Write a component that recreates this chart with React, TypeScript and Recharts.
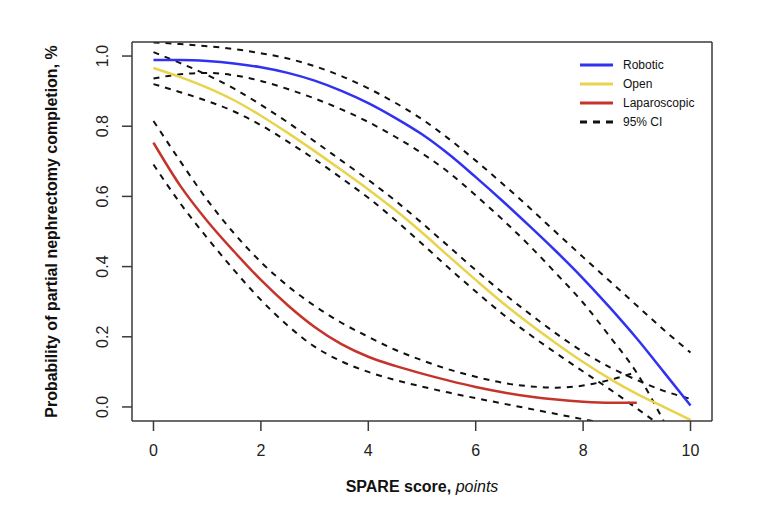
import React from "react"
import { LineChart, Line, XAxis, YAxis } from "recharts"

// SPARE score (points)
const scores = [0, 0.5, 1, 1.5, 2, 2.5, 3, 3.5, 4, 4.5, 5, 5.5, 6, 6.5, 7, 7.5, 8, 8.5, 9, 9.5, 10]

// Robotic
const roboticEst = [0.989, 0.989, 0.986, 0.979, 0.968, 0.952, 0.93, 0.901, 0.866, 0.824, 0.777, 0.72, 0.655, 0.587, 0.516, 0.443, 0.366, 0.283, 0.195, 0.1, 0.004]
const roboticUpper = [1.039, 1.034, 1.028, 1.02, 1.008, 0.993, 0.971, 0.943, 0.908, 0.867, 0.82, 0.764, 0.702, 0.636, 0.568, 0.497, 0.427, 0.358, 0.289, 0.22, 0.155]
const roboticLower = [0.936, 0.948, 0.952, 0.945, 0.929, 0.906, 0.879, 0.848, 0.812, 0.77, 0.723, 0.668, 0.603, 0.534, 0.46, 0.38, 0.297, 0.2, 0.097, -0.04, -0.19]

// Open
const openEst = [0.966, 0.94, 0.91, 0.874, 0.83, 0.781, 0.729, 0.675, 0.62, 0.561, 0.497, 0.429, 0.362, 0.297, 0.237, 0.181, 0.128, 0.08, 0.037, 0.0, -0.037]
const openUpper = [1.011, 0.98, 0.946, 0.907, 0.861, 0.811, 0.757, 0.702, 0.647, 0.588, 0.524, 0.457, 0.39, 0.326, 0.266, 0.209, 0.157, 0.113, 0.077, 0.046, 0.023]
const openLower = [0.92, 0.897, 0.872, 0.842, 0.803, 0.756, 0.706, 0.652, 0.596, 0.533, 0.465, 0.396, 0.329, 0.265, 0.207, 0.153, 0.101, 0.05, -0.004, -0.06, -0.12]

// Laparoscopic (0 to 9 points)
const lapEst = [0.753, 0.63, 0.53, 0.443, 0.362, 0.29, 0.228, 0.179, 0.143, 0.117, 0.095, 0.075, 0.057, 0.042, 0.03, 0.021, 0.015, 0.012, 0.012]
const lapUpper = [0.815, 0.7, 0.59, 0.495, 0.413, 0.345, 0.288, 0.24, 0.2, 0.163, 0.133, 0.107, 0.086, 0.069, 0.059, 0.055, 0.061, 0.077, 0.1]
const lapLower = [0.691, 0.58, 0.482, 0.39, 0.305, 0.232, 0.172, 0.13, 0.1, 0.077, 0.058, 0.041, 0.025, 0.01, -0.005, -0.02, -0.035, -0.05, -0.07]

const xTicks = [0, 2, 4, 6, 8, 10]
const yTicks = [0, 0.2, 0.4, 0.6, 0.8, 1.0]

const legendItems = [
  { label: "Robotic", color: "#3131F2", dashed: false },
  { label: "Open", color: "#E9D34C", dashed: false },
  { label: "Laparoscopic", color: "#C4342B", dashed: false },
  { label: "95% CI", color: "#111111", dashed: true },
]

const rows = scores.map((s, i) => ({
  score: s,
  rob: roboticEst[i],
  robHi: roboticUpper[i],
  robLo: roboticLower[i],
  open: openEst[i],
  openHi: openUpper[i],
  openLo: openLower[i],
  lap: lapEst[i],
  lapHi: lapUpper[i],
  lapLo: lapLower[i],
}))

const FONT = "'Liberation Sans', Arial, sans-serif"
const AXIS = "#3a3a3a"
const DASH = "6 6"

const YTick = (props: any) => {
  const { x, y, payload } = props
  return (
    <text x={x} y={y} transform={`rotate(-90 ${x} ${y})`} textAnchor="middle" dominantBaseline="central"
      fontSize={16} fill="#222" fontFamily={FONT}>
      {Number(payload.value).toFixed(1)}
    </text>
  )
}

const YTitle = (props: any) => {
  const { viewBox } = props
  const cx = viewBox.x + 19
  const cy = viewBox.y + viewBox.height / 2
  return (
    <text x={cx} y={cy} transform={`rotate(-90 ${cx} ${cy})`} textAnchor="middle" dominantBaseline="central"
      fontSize={16} fontWeight="bold" fill="#111" fontFamily={FONT}>
      Probability of partial nephrectomy completion, %
    </text>
  )
}

const XTitle = (props: any) => {
  const { viewBox } = props
  return (
    <text x={viewBox.x + viewBox.width / 2} y={viewBox.y + 71} textAnchor="middle" fontSize={16} fill="#111" fontFamily={FONT}>
      <tspan fontWeight="bold">SPARE score, </tspan>
      <tspan fontStyle="italic">points</tspan>
    </text>
  )
}

const LegendBox = () => (
  <div style={{ position: "absolute", left: 580, top: 55, fontFamily: FONT, fontSize: 12, color: "#111" }}>
    {legendItems.map((it) => (
      <div key={it.label} style={{ display: "flex", alignItems: "center", height: 19 }}>
        <svg width={33} height={6} style={{ marginRight: 10 }}>
          <line x1={0} y1={3} x2={33} y2={3} stroke={it.color} strokeWidth={3}
            strokeDasharray={it.dashed ? "7 6" : undefined} />
        </svg>
        <span>{it.label}</span>
      </div>
    ))}
  </div>
)

export default function App() {
  const ci = (key: string) => (
    <Line key={key} dataKey={key} type="monotone" stroke="#111" strokeWidth={2} strokeDasharray={DASH}
      dot={false} activeDot={false} isAnimationActive={false} legendType="none" />
  )
  return (
    <div style={{ position: "absolute", left: 0, top: 0, width: 772, height: 508, background: "#fff" }}>
      <LineChart width={772} height={508} data={rows} margin={{ top: 41, right: 59, bottom: 0, left: 32 }}>
        <XAxis dataKey="score" type="number" domain={[-0.4, 10.4]} ticks={xTicks} allowDataOverflow
          height={87} tickSize={10} tickMargin={14} stroke={AXIS} strokeWidth={1.5}
          tick={{ fontSize: 16, fill: "#222", fontFamily: FONT }} label={<XTitle />} />
        <XAxis xAxisId="top" orientation="top" type="number" domain={[-0.4, 10.4]} height={1}
          tick={false} tickLine={false} stroke={AXIS} strokeWidth={1.5} />
        <YAxis type="number" domain={[-0.04, 1.04]} ticks={yTicks} allowDataOverflow width={100}
          tickSize={10} tickMargin={19} stroke={AXIS} strokeWidth={1.5} tick={<YTick />} label={<YTitle />} />
        <YAxis yAxisId="right" orientation="right" type="number" domain={[-0.04, 1.04]} width={1}
          tick={false} tickLine={false} stroke={AXIS} strokeWidth={1.5} />
        {ci("robHi")}
        {ci("robLo")}
        {ci("openHi")}
        {ci("openLo")}
        {ci("lapHi")}
        {ci("lapLo")}
        <Line dataKey="lap" type="monotone" stroke="#C4342B" strokeWidth={2.5} dot={false} activeDot={false} isAnimationActive={false} />
        <Line dataKey="open" type="monotone" stroke="#E9D34C" strokeWidth={2.5} dot={false} activeDot={false} isAnimationActive={false} />
        <Line dataKey="rob" type="monotone" stroke="#3131F2" strokeWidth={2.5} dot={false} activeDot={false} isAnimationActive={false} />
      </LineChart>
      <LegendBox />
    </div>
  )
}
